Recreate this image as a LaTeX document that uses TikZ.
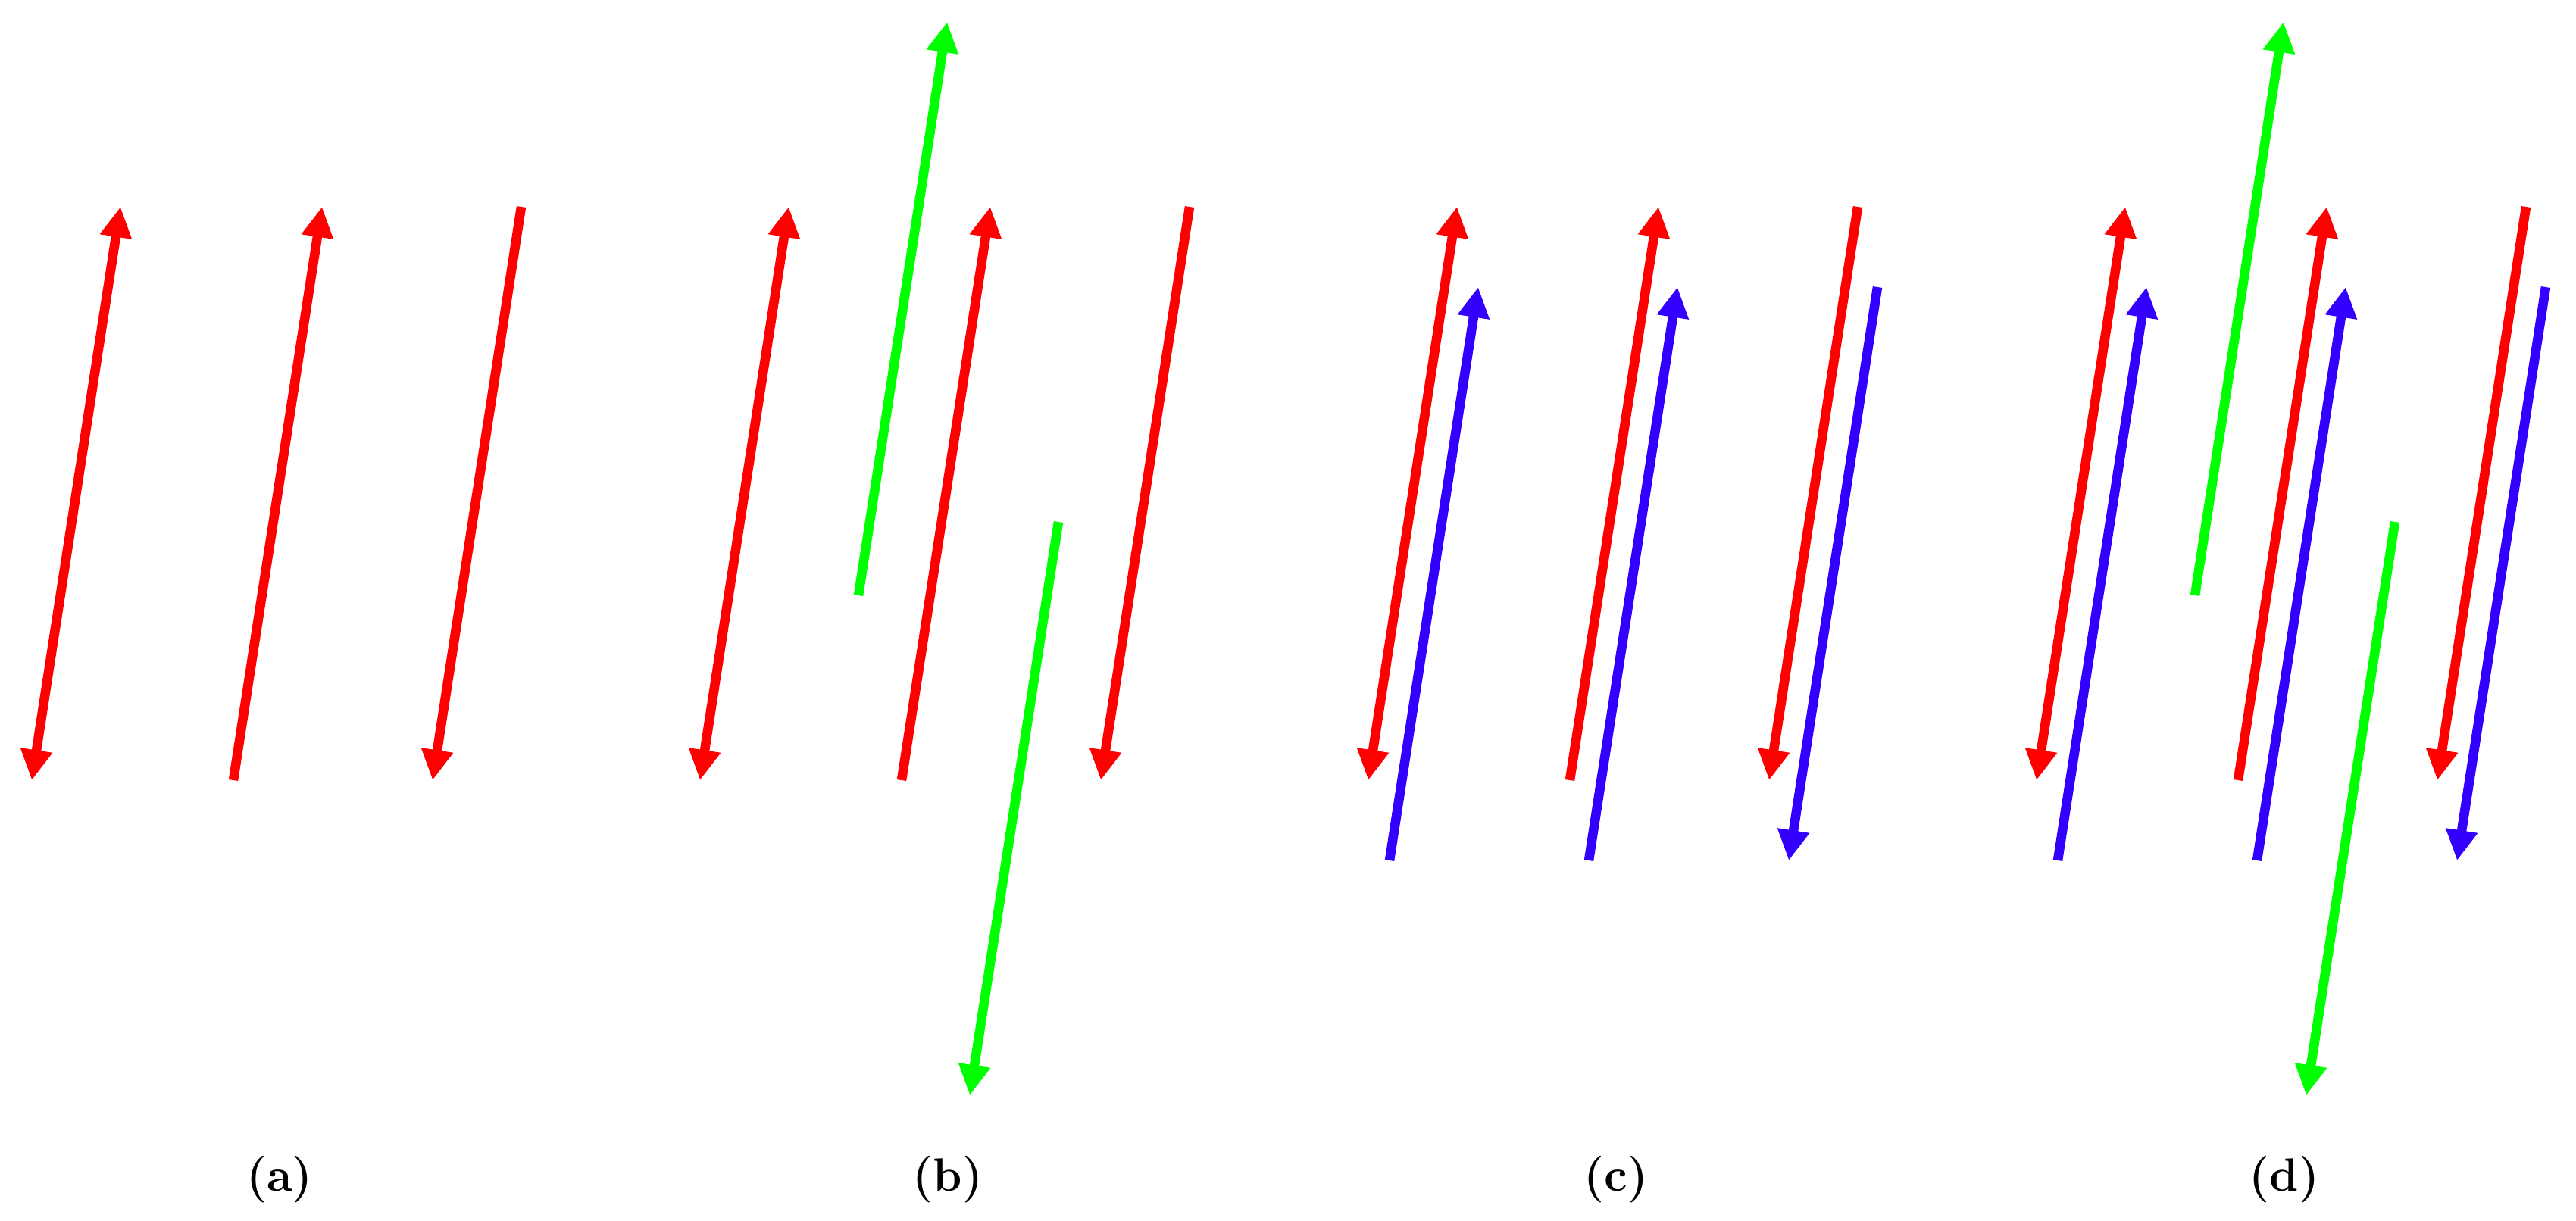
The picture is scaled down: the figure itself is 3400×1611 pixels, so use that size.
\documentclass[tikz,border=0pt]{standalone}
\usetikzlibrary{arrows.meta}
\definecolor{rd}{RGB}{255,0,0}
\definecolor{gr}{RGB}{0,255,0}
\definecolor{bl}{RGB}{51,0,255}
\begin{document}
\begin{tikzpicture}[x=0.01cm,y=-0.01cm,
  >={Triangle[length=0.40cm,width=0.40cm]},
  vec/.style={line width=0.125cm,line cap=butt},
  redvec/.style={vec,draw=rd,fill=rd},
  greenvec/.style={vec,draw=gr,fill=gr},
  bluevec/.style={vec,draw=bl,fill=bl},
  lab/.style={font=\fontsize{17.5}{20}\selectfont\bfseries,inner sep=0pt}]
\useasboundingbox (0,0) rectangle (3400,1611);
% red vectors in every panel
\foreach \p/\o in {a/0,b/882,c/1764,d/2646}{
  \coordinate (\p r1b) at (\o+42,1030);  \coordinate (\p r1t) at (\o+159,273);
  \coordinate (\p r2b) at (\o+308,1030); \coordinate (\p r2t) at (\o+425,273);
  \coordinate (\p r3b) at (\o+571,1030); \coordinate (\p r3t) at (\o+688,273);
  \draw[redvec,<->] (\p r1b) -- (\p r1t);
  \draw[redvec,->] (\p r2b) -- (\p r2t);
  \draw[redvec,->] (\p r3t) -- (\p r3b);
  \node[lab] (\p lab) at (\o+369,1557) {(\p)};
}
% blue vectors in panels c and d
\foreach \p/\o in {c/1764,d/2646}{
  \coordinate (\p b1b) at (\o+70,1136);  \coordinate (\p b1t) at (\o+187,379);
  \coordinate (\p b2b) at (\o+333,1136); \coordinate (\p b2t) at (\o+450,379);
  \coordinate (\p b3b) at (\o+597,1136); \coordinate (\p b3t) at (\o+714,379);
  \draw[bluevec,->] (\p b1b) -- (\p b1t);
  \draw[bluevec,->] (\p b2b) -- (\p b2t);
  \draw[bluevec,->] (\p b3t) -- (\p b3b);
}
% green vectors in panels b and d
\foreach \p/\o in {b/882,d/2646}{
  \coordinate (\p g1b) at (\o+251,786);  \coordinate (\p g1t) at (\o+368,29);
  \coordinate (\p g2b) at (\o+398,1446); \coordinate (\p g2t) at (\o+515,689);
  \draw[greenvec,->] (\p g1b) -- (\p g1t);
  \draw[greenvec,->] (\p g2t) -- (\p g2b);
}
\end{tikzpicture}
\end{document}
